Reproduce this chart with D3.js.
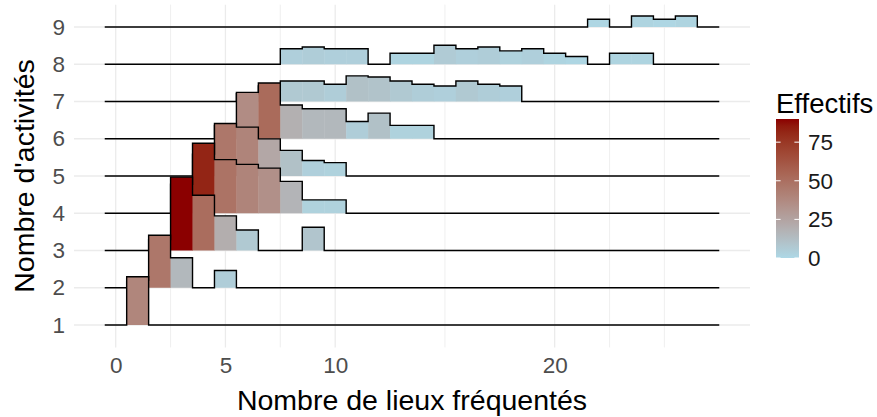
<!DOCTYPE html>
<html><head><meta charset="utf-8">
<script src="https://cdn.jsdelivr.net/npm/d3@7"></script>
<style>body{margin:0;background:#fff}svg{display:block}</style>
</head><body>
<script>
// ---- data ----
const rowLabels = ["1","2","3","4","5","6","7","8","9"];
// bin centres 0..27 (nombre de lieux), counts per bin for each row
const binCenters = d3.range(0, 28);
const row1 = [0,39,0,0,0,0,0,0,0,0,0,0,0,0,0,0,0,0,0,0,0,0,0,0,0,0,0,0];
const row2 = [0,1,46,15,0,5,0,0,0,0,0,0,0,0,0,0,0,0,0,0,0,0,0,0,0,0,0,0];
const row3 = [0,0,2,90,51,20,7,0,0,9,0,0,0,0,0,0,0,0,0,0,0,0,0,0,0,0,0,0];
const row4 = [0,0,0,14,82,48,40,34,17,3,3,0,0,0,0,0,0,0,0,0,0,0,0,0,0,0,0,0];
const row5 = [0,0,0,0,8,46,40,23,11,4,3,0,0,0,0,0,0,0,0,0,0,0,0,0,0,0,0,0];
const row6 = [0,0,0,0,0,3,36,52,19,15,15,5,11,3,3,0,0,0,0,0,0,0,0,0,0,0,0,0];
const row7 = [0,0,0,0,0,0,1,4,7,7,5,11,10,7,5,4,7,5,4,0,0,0,0,0,0,0,0,0];
const row8 = [0,0,0,0,0,0,0,0,4,5,4,4,0,2,2,6,4,5,3,4,2,1,0,2,2,0,0,0];
const row9 = [0,0,0,0,0,0,0,0,0,0,0,0,0,0,0,0,0,0,0,0,0,0,1,0,2,1,2,0];
const allRows = [row1,row2,row3,row4,row5,row6,row7,row8,row9];
const xTicks = [0,5,10,20];
const xMinor = [2.5,7.5,15,22.5,25];
const legendTicks = [0,25,50,75];

// ---- layout ----
const W = 877, H = 417;
const panel = {left:74, right:750, top:4.65, bottom:347.4};
const font = "'Liberation Sans', Arial, sans-serif";

const svg = d3.select("body").append("svg").attr("width", W).attr("height", H)
  .style("font-family", font);

const x = d3.scaleLinear().domain([-1.9, 28.9]).range([panel.left, panel.right]);
const y = d3.scalePoint().domain(rowLabels).range([325, 27]);
const maxCount = d3.max(allRows, r => d3.max(r));
const h = d3.scaleSqrt().domain([0, maxCount]).range([0, 1.97 * y.step()]);
const color = d3.scaleLinear().domain([0, maxCount]).range(["#ADD8E6", "#8B0000"])
  .interpolate(d3.interpolateLab);

// grid
const grid = svg.append("g");
xMinor.forEach(v => grid.append("line").attr("x1", x(v)).attr("x2", x(v))
  .attr("y1", panel.top).attr("y2", panel.bottom).attr("stroke", "#EBEBEB").attr("stroke-width", 0.8));
xTicks.forEach(v => grid.append("line").attr("x1", x(v)).attr("x2", x(v))
  .attr("y1", panel.top).attr("y2", panel.bottom).attr("stroke", "#EBEBEB").attr("stroke-width", 1.3));
rowLabels.forEach(r => grid.append("line").attr("x1", panel.left).attr("x2", panel.right)
  .attr("y1", y(r)).attr("y2", y(r)).attr("stroke", "#EBEBEB").attr("stroke-width", 1.3));

// ridges: top row first so lower rows overlap
const ridges = svg.append("g");
for (let i = rowLabels.length - 1; i >= 0; i--) {
  const data = allRows[i];
  const base = y(rowLabels[i]);
  const g = ridges.append("g");
  g.selectAll("rect").data(binCenters.filter(b => data[b] > 0)).join("rect")
    .attr("x", b => x(b - 0.5)).attr("width", b => x(b + 0.5) - x(b - 0.5) + 0.4)
    .attr("y", b => base - h(data[b])).attr("height", b => h(data[b]))
    .attr("fill", b => color(data[b]));
  const pts = [];
  binCenters.forEach(b => {
    pts.push([x(b - 0.5), base - h(data[b])]);
    pts.push([x(b + 0.5), base - h(data[b])]);
  });
  g.append("path").attr("d", d3.line()(pts)).attr("fill", "none")
    .attr("stroke", "#000").attr("stroke-width", 1.4).attr("stroke-linejoin", "miter");
}

// axes
const xAxis = svg.append("g").attr("transform", `translate(0,${panel.bottom})`)
  .call(d3.axisBottom(x).tickValues(xTicks).tickSize(0).tickPadding(10));
xAxis.select(".domain").remove();
xAxis.selectAll("text").attr("font-size", 22.5).attr("fill", "#4D4D4D").attr("font-family", font);

const yAxis = svg.append("g").attr("transform", `translate(${panel.left},0)`)
  .call(d3.axisLeft(y).tickSize(0).tickPadding(9));
yAxis.select(".domain").remove();
yAxis.selectAll("text").attr("font-size", 22.5).attr("fill", "#4D4D4D").attr("font-family", font);

svg.append("text").attr("x", (panel.left + panel.right) / 2).attr("y", 410)
  .attr("text-anchor", "middle").attr("font-size", 28.5).text("Nombre de lieux fréquentés");
svg.append("text").attr("transform", `translate(34,${(panel.top + panel.bottom) / 2}) rotate(-90)`)
  .attr("text-anchor", "middle").attr("font-size", 28.5).text("Nombre d'activités");

// legend
const lg = svg.append("g");
const barX = 776, barW = 23, barTop = 119, barBot = 258;
const ly = d3.scaleLinear().domain([0, maxCount]).range([barBot, barTop]);
const defs = svg.append("defs");
const grad = defs.append("linearGradient").attr("id", "cb").attr("x1", 0).attr("x2", 0).attr("y1", 1).attr("y2", 0);
d3.range(0, 1.0001, 0.05).forEach(t => grad.append("stop").attr("offset", t).attr("stop-color", color(t * maxCount)));
lg.append("rect").attr("x", barX).attr("y", barTop).attr("width", barW).attr("height", barBot - barTop)
  .attr("fill", "url(#cb)");
legendTicks.forEach(v => {
  lg.append("line").attr("x1", barX).attr("x2", barX + barW / 5).attr("y1", ly(v)).attr("y2", ly(v))
    .attr("stroke", "#fff").attr("stroke-width", 1);
  lg.append("line").attr("x1", barX + barW * 4 / 5).attr("x2", barX + barW).attr("y1", ly(v)).attr("y2", ly(v))
    .attr("stroke", "#fff").attr("stroke-width", 1);
  lg.append("text").attr("x", 808).attr("y", ly(v)).attr("dy", "0.36em")
    .attr("font-size", 22.5).attr("fill", "#1a1a1a").text(v);
});
lg.append("text").attr("x", barX).attr("y", 113).attr("font-size", 27.5).text("Effectifs");
</script>
</body></html>
